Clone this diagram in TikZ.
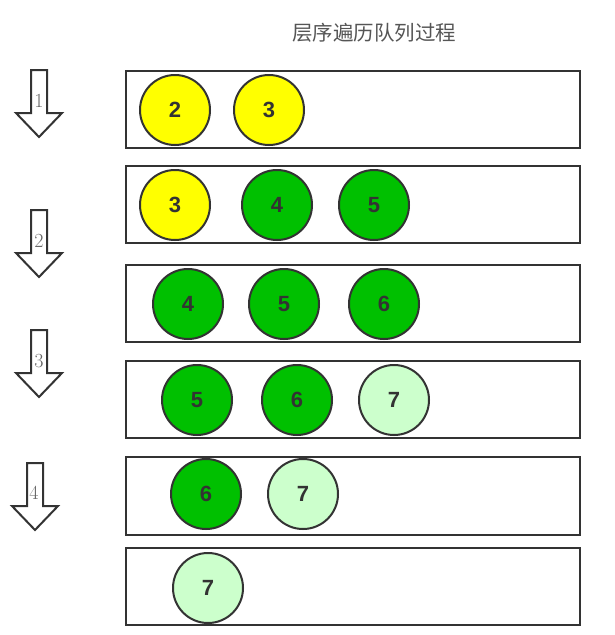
\documentclass[tikz,border=0pt]{standalone}
\usepackage{fontspec}
\setsansfont{Liberation Sans}
\newfontfamily\cjk{Noto Sans CJK SC}
\definecolor{edge}{HTML}{333333}
\definecolor{qyellow}{HTML}{FFFF00}
\definecolor{qgreen}{HTML}{00C000}
\definecolor{qlight}{HTML}{CCFFCC}
\definecolor{titlegray}{HTML}{555555}
\definecolor{lblgray}{HTML}{666666}
\tikzset{
  queuebox/.style={draw=edge, line width=2pt, fill=white},
  ball/.style={circle, draw=edge, line width=2pt, minimum size=70pt, inner sep=0pt,
    font=\sffamily\bfseries\fontsize{22}{22}\selectfont, text=edge},
  yel/.style={ball, fill=qyellow},
  grn/.style={ball, fill=qgreen},
  lgr/.style={ball, fill=qlight},
  blockarrow/.style={draw=edge, line width=2pt, fill=white, line join=miter},
  steplabel/.style={text=lblgray, font=\fontsize{20}{20}\selectfont, inner sep=0pt},
}
\newcommand\blkarrow[3]{% #1 center x, #2 top y, #3 name
  \draw[blockarrow] (#1-8,#2) -- (#1+8,#2) -- (#1+8,#2+43) -- (#1+23,#2+43)
    -- (#1,#2+67) -- (#1-23,#2+43) -- (#1-8,#2+43) -- cycle;
}
\begin{document}
\begin{tikzpicture}[x=1pt,y=-1pt]
\useasboundingbox[fill=white] (0,0) rectangle (615,635);
\node[text=titlegray, font=\cjk\fontsize{20.5}{20.5}\selectfont] (title) at (374,33) {层序遍历队列过程};

% step arrows
\blkarrow{39}{70}{a1}
\blkarrow{39}{210}{a2}
\blkarrow{39}{330}{a3}
\blkarrow{35}{463}{a4}
\node[steplabel] (l1) at (39,101) {1};
\node[steplabel] (l2) at (39,241) {2};
\node[steplabel] (l3) at (39,361) {3};
\node[steplabel] (l4) at (34,493) {4};

% queue boxes
\draw[queuebox] (126,71) rectangle (580,148);
\draw[queuebox] (126,166) rectangle (580,243);
\draw[queuebox] (126,265) rectangle (580,342);
\draw[queuebox] (126,361) rectangle (580,438);
\draw[queuebox] (126,457) rectangle (580,535);
\draw[queuebox] (126,548) rectangle (580,625);

% row 1
\node[yel] (r1a) at (175,110) {2};
\node[yel] (r1b) at (269,110) {3};
% row 2
\node[yel] (r2a) at (175,205) {3};
\node[grn] (r2b) at (277,205) {4};
\node[grn] (r2c) at (374,205) {5};
% row 3
\node[grn] (r3a) at (188,304) {4};
\node[grn] (r3b) at (284,304) {5};
\node[grn] (r3c) at (384,304) {6};
% row 4
\node[grn] (r4a) at (197,400) {5};
\node[grn] (r4b) at (297,400) {6};
\node[lgr] (r4c) at (394,400) {7};
% row 5
\node[grn] (r5a) at (206,494) {6};
\node[lgr] (r5b) at (303,494) {7};
% row 6
\node[lgr] (r6a) at (208,588) {7};
\end{tikzpicture}
\end{document}
